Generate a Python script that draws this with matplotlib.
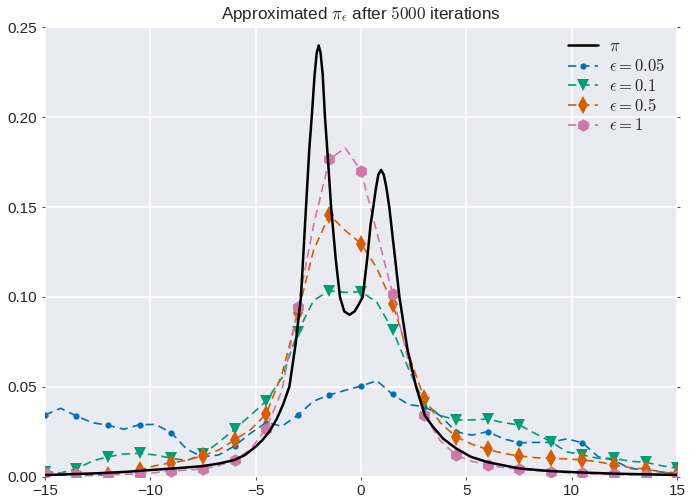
import numpy as np
import matplotlib
matplotlib.use("Agg")
import matplotlib.pyplot as plt
import seaborn as sns

sns.set_style("darkgrid")
plt.rcParams['font.family'] = ['Liberation Sans', 'DejaVu Sans']
plt.rcParams['mathtext.fontset'] = 'cm'

# ==========================================
# Data
# ==========================================
# target density pi (solid black)
x_pi = [-15, -12.5, -11, -10, -8.75, -7.5, -6.75, -6, -5.5, -5, -4.7, -4.35, -4.0,
        -3.7, -3.4, -3.1, -2.85, -2.61, -2.45, -2.34, -2.2, -2.1, -2.01, -1.92,
        -1.82, -1.71, -1.56, -1.42, -1.2, -1.0, -0.8, -0.55, -0.3, -0.1, 0.08,
        0.3, 0.45, 0.58, 0.7, 0.82, 0.95, 1.08, 1.2, 1.34, 1.58, 1.82, 2.2, 2.61,
        3.03, 3.39, 3.9, 4.5, 5.2, 6.0, 7.5, 9.0, 10.5, 12.0, 13.5, 15.0]
y_pi = [0.0008, 0.0018, 0.0027, 0.0036, 0.0046, 0.0058, 0.0072, 0.0092, 0.012, 0.0166,
        0.020, 0.025, 0.032, 0.040, 0.050, 0.074, 0.100, 0.150, 0.183, 0.200, 0.224,
        0.236, 0.240, 0.236, 0.224, 0.200, 0.175, 0.150, 0.121, 0.100, 0.092, 0.090,
        0.092, 0.096, 0.100, 0.122, 0.140, 0.150, 0.160, 0.168, 0.1707, 0.168, 0.161,
        0.150, 0.125, 0.100, 0.071, 0.050, 0.034, 0.028, 0.021, 0.0157, 0.011, 0.008,
        0.0045, 0.0030, 0.0022, 0.0016, 0.0012, 0.0009]

# approximations, sampled every 0.75 on [-15, 15]
x_eps = np.arange(-15, 15.01, 0.75)

y_005 = [0.0342, 0.038, 0.0337, 0.030, 0.0285, 0.0263, 0.0289, 0.029, 0.0244, 0.015,
         0.011, 0.012, 0.017, 0.024, 0.030, 0.028, 0.0342, 0.042, 0.0454, 0.048,
         0.0504, 0.0533, 0.0458, 0.040, 0.0389, 0.034, 0.025, 0.023, 0.025, 0.021,
         0.0188, 0.019, 0.019, 0.021, 0.0188, 0.011, 0.009, 0.0045, 0.0036, 0.0025,
         0.002]
y_01 = [0.0027, 0.002, 0.0042, 0.0086, 0.011, 0.0125, 0.0129, 0.012, 0.0101, 0.009,
        0.0124, 0.019, 0.0263, 0.034, 0.042, 0.055, 0.0806, 0.098, 0.1035, 0.1025,
        0.1029, 0.097, 0.0816, 0.060, 0.0408, 0.034, 0.0315, 0.0315, 0.032, 0.030,
        0.0287, 0.024, 0.0194, 0.0138, 0.012, 0.0101, 0.0101, 0.0085, 0.0079, 0.006,
        0.0046]
y_05 = [0.001, 0.0008, 0.0006, 0.0006, 0.0008, 0.002, 0.0038, 0.006, 0.0077, 0.009,
        0.0116, 0.0148, 0.0203, 0.026, 0.0348, 0.057, 0.0909, 0.126, 0.1456, 0.137,
        0.1297, 0.116, 0.096, 0.068, 0.0435, 0.030, 0.0222, 0.018, 0.0151, 0.0129,
        0.0114, 0.0105, 0.0101, 0.0098, 0.0092, 0.0082, 0.0064, 0.005, 0.0042, 0.0025,
        0.0015]
y_1 = [0.0021, 0.0017, 0.0015, 0.0012, 0.0011, 0.0012, 0.0015, 0.0022, 0.0031, 0.0036,
       0.0042, 0.006, 0.0092, 0.015, 0.0266, 0.048, 0.0942, 0.140, 0.1766, 0.183,
       0.1701, 0.136, 0.1016, 0.064, 0.0342, 0.020, 0.012, 0.0085, 0.0064, 0.005,
       0.004, 0.0033, 0.0027, 0.0022, 0.0018, 0.0014, 0.0012, 0.001, 0.0009, 0.0007,
       0.0005]

labels = [r'$\pi$', r'$\epsilon=0.05$', r'$\epsilon=0.1$', r'$\epsilon=0.5$', r'$\epsilon=1$']
colors = ['#0072B2', '#009E73', '#D55E00', '#CC79A7']
markers = ['o', 'v', 'd', 'h']
msizes = [4.5, 9, 9, 9]

# ==========================================
# Plot
# ==========================================
fig = plt.figure(figsize=(6.89, 5.0), dpi=100)
ax = fig.add_axes([0.065, 0.047, 0.918, 0.898])

ax.plot(x_pi, y_pi, color='black', lw=1.8, label=labels[0], zorder=5)
for ys, c, m, ms, lab in zip([y_005, y_01, y_05, y_1], colors, markers, msizes, labels[1:]):
    ax.plot(x_eps, ys, color=c, lw=1.2, linestyle=(0, (5, 3)), marker=m, ms=ms,
            markevery=2, markeredgewidth=0, label=lab)

ax.set_xlim(-15, 15)
ax.set_ylim(0, 0.25)
ax.set_xticks(np.arange(-15, 16, 5))
ax.set_yticks(np.arange(0, 0.26, 0.05))
ax.set_yticklabels(['%.2f' % v for v in np.arange(0, 0.26, 0.05)])
ax.tick_params(labelsize=11, length=2, color='#555555', right=True, bottom=True, left=True)
ax.grid(color='white', lw=1.3)
for s in ax.spines.values():
    s.set_visible(False)

ax.set_title(r'Approximated $\pi_\epsilon$ after $5000$ iterations', fontsize=12.3)
ax.legend(loc='upper right', frameon=False, fontsize=12, handlelength=1.8,
          labelspacing=0.2, borderaxespad=0.3, handletextpad=0.7)

fig.savefig('out.png', dpi=100)
